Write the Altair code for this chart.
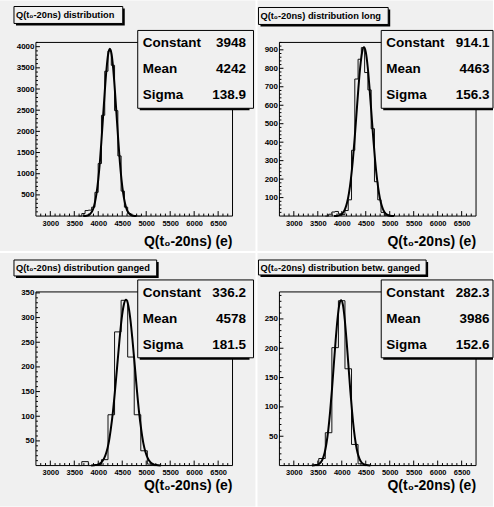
import altair as alt
import pandas as pd

# ---------------- data ----------------
panel_titles = [
    "Q(t\u2080-20ns) distribution",
    "Q(t\u2080-20ns) distribution long",
    "Q(t\u2080-20ns) distribution ganged",
    "Q(t\u2080-20ns) distribution betw. ganged",
]
x_title = "Q(t\u2080-20ns) (e)"
stat_names = ["Constant", "Mean", "Sigma"]
constants = ["3948", "914.1", "336.2", "282.3"]
means = ["4242", "4463", "4578", "3986"]
sigmas = ["138.9", "156.3", "181.5", "152.6"]

x_range = [2700, 6800]
x_labels = [3000, 3500, 4000, 4500, 5000, 5500, 6000, 6500]
y_max = [4100, 940, 352, 296]
y_labels = [
    [500, 1000, 1500, 2000, 2500, 3000, 3500, 4000],
    [100, 200, 300, 400, 500, 600, 700, 800, 900],
    [50, 100, 150, 200, 250, 300, 350],
    [50, 100, 150, 200, 250],
]
y_minor_step = [100, 20, 10, 10]

# histogram binning (left edge of first listed bin, bin width) and counts
hist_start = [2700 + 13 * 4100 / 60, 2700 + 14 * 4100 / 60, 2700 + 6 * 4100 / 30, 2700 + 5 * 4100 / 30]
hist_width = [4100 / 60, 4100 / 60, 4100 / 30, 4100 / 30]
hist1 = [0, 60, 130, 140, 210, 560, 1240, 2380, 3420, 3900, 3560, 2490, 1420, 590, 210, 60, 15, 3, 0]
hist2 = [0, 10, 22, 25, 12, 8, 30, 88, 356, 742, 849, 912, 777, 683, 473, 186, 88, 20, 4, 0]
hist3 = [0, 8, 0, 2, 12, 103, 271, 335, 220, 103, 30, 3, 0]
hist4 = [0, 12, 56, 201, 281, 165, 36, 3, 0]

fit1_x = [3686, 3756, 3791, 3825, 3860, 3895, 3929, 3964, 3999, 4034, 4068, 4103, 4138, 4173, 4207, 4242,
          4277, 4311, 4346, 4381, 4416, 4450, 4485, 4520, 4555, 4589, 4624, 4659, 4693, 4728, 4798]
fit1_y = [1, 9, 20, 44, 90, 173, 314, 534, 854, 1282, 1807, 2394, 2980, 3484, 3826, 3948,
          3826, 3484, 2980, 2394, 1807, 1282, 854, 534, 314, 173, 90, 44, 20, 9, 1]
fit2_x = [3838, 3916, 3955, 3994, 4033, 4072, 4111, 4150, 4189, 4229, 4268, 4307, 4346, 4385, 4424, 4463,
          4502, 4541, 4580, 4619, 4658, 4697, 4737, 4776, 4815, 4854, 4893, 4932, 4971, 5010, 5088]
fit2_y = [0, 2, 5, 10, 21, 40, 73, 124, 198, 297, 418, 554, 690, 807, 886, 914,
          886, 807, 690, 554, 418, 297, 198, 124, 73, 40, 21, 10, 5, 2, 0]
fit3_x = [3852, 3943, 3988, 4034, 4079, 4124, 4170, 4215, 4260, 4306, 4351, 4397, 4442, 4487, 4533, 4578,
          4623, 4669, 4714, 4760, 4805, 4850, 4896, 4941, 4986, 5032, 5077, 5123, 5168, 5213, 5304]
fit3_y = [0, 1, 2, 4, 8, 15, 27, 45, 73, 109, 154, 204, 254, 297, 326, 336,
          326, 297, 254, 204, 154, 109, 73, 45, 27, 15, 8, 4, 2, 1, 0]
fit4_x = [3376, 3452, 3490, 3528, 3566, 3605, 3643, 3681, 3719, 3757, 3795, 3833, 3872, 3910, 3948, 3986,
          4024, 4062, 4100, 4139, 4177, 4215, 4253, 4291, 4329, 4368, 4406, 4444, 4482, 4520, 4596]
fit4_y = [0, 1, 1, 3, 6, 12, 22, 38, 61, 92, 129, 171, 213, 249, 274, 282,
          274, 249, 213, 171, 129, 92, 61, 38, 22, 12, 6, 3, 1, 1, 0]

hists = [hist1, hist2, hist3, hist4]
fits = [(fit1_x, fit1_y), (fit2_x, fit2_y), (fit3_x, fit3_y), (fit4_x, fit4_y)]

# ---------------- layout / style ----------------
FONT = "Liberation Sans"
PAD_FILL = "#f0f0f0"
W, H = 197, 174
pad_boxes = [(-36, 220, -42, 209), (-22, 214, -42, 209), (-36, 220, -39, 215), (-22, 214, -39, 215)]
title_boxes = [(-22, 87, -36, -19), (-21, 109, -35, -18), (-22, 121, -32, -16), (-21, 147, -32, -17)]
stat_boxes = [(102, 218), (102, 214), (102, 218), (102, 214)]
xtitle_base = [204, 204, 198, 198]

one = pd.DataFrame({"a": [0]})


def vrect(x, x2, y, y2, **kw):
    return alt.Chart(one).mark_rect(**kw).encode(
        x=alt.value(x), x2=alt.value(x2), y=alt.value(y), y2=alt.value(y2))


def vtext(txt, x, y, size, align="left", baseline="middle"):
    return alt.Chart(one).mark_text(
        text=txt, align=align, baseline=baseline, font=FONT, fontWeight="bold",
        fontSize=size, color="black").encode(x=alt.value(x), y=alt.value(y))


def panel(i):
    xs = alt.Scale(domain=x_range, nice=False, zero=False)
    ys = alt.Scale(domain=[0, y_max[i]], nice=False)
    xax = alt.Axis(values=x_labels, format="d", ticks=False, domain=False, grid=False, title=None,
                   labelFont=FONT, labelFontWeight="bold", labelFontSize=7.5,
                   labelPadding=3, labelFlush=False, labelOverlap=False, labelColor="black",
                   zindex=5)
    yax = alt.Axis(values=y_labels[i], format="d", ticks=False, domain=False, grid=False, title=None,
                   labelFont=FONT, labelFontWeight="bold", labelFontSize=8,
                   labelPadding=2, labelFlush=False, labelOverlap=False, labelColor="black",
                   zindex=5)

    layers = []
    # pad background
    px0, px1, py0, py1 = pad_boxes[i]
    layers.append(vrect(px0, px1, py0, py1, fill=PAD_FILL))
    # title box
    tx0, tx1, ty0, ty1 = title_boxes[i]
    layers.append(vrect(tx0 + 2, tx1 + 2, ty0 + 2, ty1 + 2, fill="black"))
    layers.append(vrect(tx0, tx1, ty0, ty1, fill=PAD_FILL, stroke="black", strokeWidth=1))
    layers.append(vtext(panel_titles[i], tx0 + 2, (ty0 + ty1) / 2 + 0.5, 9.3))
    # frame
    layers.append(vrect(0, W, 0, H, fill=PAD_FILL, stroke="black", strokeWidth=1))

    # ticks (inward)
    majors = pd.DataFrame({"v": x_labels})
    minors = pd.DataFrame({"v": [v for v in range(2800, 6800, 100) if v % 500 != 0]})
    layers.append(alt.Chart(majors).mark_rule(color="black", strokeWidth=1).encode(
        x=alt.X("v:Q", scale=xs, axis=xax), y=alt.value(H), y2=alt.value(H - 5)))
    layers.append(alt.Chart(minors).mark_rule(color="black", strokeWidth=1).encode(
        x=alt.X("v:Q", scale=xs, axis=xax), y=alt.value(H), y2=alt.value(H - 2.5)))
    ymaj = pd.DataFrame({"v": y_labels[i]})
    st = y_minor_step[i]
    big = y_labels[i][1] - y_labels[i][0]
    ymin = pd.DataFrame({"v": [k * st for k in range(1, int(y_max[i] / st) + 1)
                               if (k * st) % big != 0]})
    layers.append(alt.Chart(ymaj).mark_rule(color="black", strokeWidth=1).encode(
        y=alt.Y("v:Q", scale=ys, axis=yax), x=alt.value(0), x2=alt.value(4)))
    layers.append(alt.Chart(ymin).mark_rule(color="black", strokeWidth=1).encode(
        y=alt.Y("v:Q", scale=ys, axis=yax), x=alt.value(0), x2=alt.value(2)))

    # histogram as step outline
    counts = hists[i]
    edges = [hist_start[i] + k * hist_width[i] for k in range(len(counts) + 1)]
    hx = edges[:-1] + [edges[-1]]
    hy = counts + [counts[-1]]
    hdf = pd.DataFrame({"x": hx, "y": hy})
    layers.append(alt.Chart(hdf).mark_line(interpolate="step-after", color="#111111",
                                           strokeWidth=1).encode(
        x=alt.X("x:Q", scale=xs, axis=xax), y=alt.Y("y:Q", scale=ys, axis=yax)))

    # fit curve
    fx, fy = fits[i]
    fdf = pd.DataFrame({"x": fx, "y": fy})
    layers.append(alt.Chart(fdf).mark_line(interpolate="monotone", color="black",
                                           strokeWidth=2).encode(
        x=alt.X("x:Q", scale=xs, axis=xax), y=alt.Y("y:Q", scale=ys, axis=yax)))

    # stats box
    sx0, sx1 = stat_boxes[i]
    sy0, sy1 = -12, 66
    layers.append(vrect(sx0 + 2, min(sx1 + 2, 214), sy0 + 2, sy1 + 2, fill="black"))
    layers.append(vrect(sx0, sx1, sy0, sy1, fill=PAD_FILL, stroke="black", strokeWidth=1))
    vals = [constants[i], means[i], sigmas[i]]
    for r, (nm, vv) in enumerate(zip(stat_names, vals)):
        yy = 1 + r * 26
        layers.append(vtext(nm, sx0 + 5, yy, 13.5))
        layers.append(vtext(vv, 210.5, yy, 13.5, align="right"))

    # x axis title
    layers.append(vtext(x_title, W, xtitle_base[i], 14, align="right", baseline="alphabetic"))

    return alt.layer(*layers).properties(width=W, height=H)


chart = alt.concat(
    panel(0), panel(1), panel(2), panel(3),
    columns=2, spacing={"row": 76, "column": 47}, bounds="flush",
).properties(padding=0, background="#ffffff").configure_view(stroke=None)

chart.save("out.html", embed_options={"renderer": "svg", "actions": False})
